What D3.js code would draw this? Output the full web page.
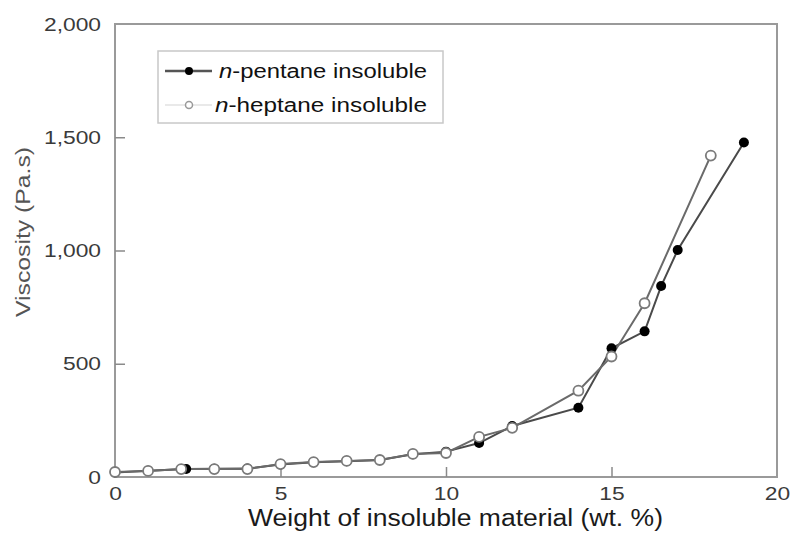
<!DOCTYPE html>
<html>
<head>
<meta charset="utf-8">
<script src="https://cdn.jsdelivr.net/npm/d3@7"></script>
<style>
  body { margin: 0; background: #fff; }
  text { font-family: "Liberation Sans", Arial, sans-serif; }
</style>
</head>
<body>
<div class="chart"></div>
<script>
// wt.% of insoluble material vs viscosity (Pa.s)
var pentaneX = [0, 1, 2.15, 3, 4, 5, 6, 7, 8, 9, 10, 11, 12, 14, 15, 16, 16.5, 17, 19];
var pentaneY = [20, 28, 35, 36, 37, 55, 65, 70, 75, 100, 112, 150, 225, 306, 568, 643, 843, 1002, 1477];

var heptaneX = [0, 1, 2, 3, 4, 5, 6, 7, 8, 9, 10, 11, 12, 14, 15, 16, 18];
var heptaneY = [22, 27, 35, 35, 35, 57, 66, 71, 75, 102, 106, 177, 217, 381, 532, 767, 1419];

var xTicks = [0, 5, 10, 15, 20];
var yTicks = [0, 500, 1000, 1500, 2000];

var seriesNames = ["pentane insoluble", "heptane insoluble"];

var width = 795;
var height = 552;
// plot box (note: "top" is taken by window.top)
var plotLeft = 115, plotRight = 777, plotTop = 24, plotBottom = 477;

var x = d3.scaleLinear().domain([0, 20]).range([plotLeft, plotRight]);
var y = d3.scaleLinear().domain([0, 2000]).range([plotBottom, plotTop]);

var svg = d3.select(".chart").append("svg")
	.attr("width", width)
	.attr("height", height);

// widen horizontal text a little around its anchor point
function stretchText(sel, k) {
	sel.each(function() {
		var t = d3.select(this);
		var tx = +t.attr("x") || 0;
		var ty = +t.attr("y") || 0;
		t.attr("x", 0).attr("y", 0)
			.attr("transform", "translate(" + tx + "," + ty + ") scale(" + k + ",1)");
	});
}

// frame
svg.append("rect")
	.attr("x", plotLeft)
	.attr("y", plotTop)
	.attr("width", plotRight - plotLeft)
	.attr("height", plotBottom - plotTop)
	.attr("fill", "none")
	.attr("stroke", "#9a9a9a")
	.attr("stroke-width", 2);

var xAxis = svg.append("g")
	.attr("transform", "translate(0," + plotBottom + ")")
	.call(d3.axisBottom(x).tickValues(xTicks).tickSizeInner(-10).tickSizeOuter(0).tickPadding(10));

var yAxis = svg.append("g")
	.attr("transform", "translate(" + plotLeft + ",0)")
	.call(d3.axisLeft(y).tickValues(yTicks).tickFormat(d3.format(",")).tickSizeInner(-10).tickSizeOuter(0).tickPadding(14));

[xAxis, yAxis].forEach(function(ax) {
	ax.select(".domain").remove();
	ax.selectAll(".tick line")
		.attr("stroke", "#8a8a8a")
		.attr("stroke-width", 1.5)
		.attr("display", function(d) { return (d === 0 || d === 20 || d === 2000) ? "none" : null; });
	ax.selectAll(".tick text")
		.attr("font-size", 19)
		.attr("fill", "#3a3a3a")
		.attr("font-family", "Liberation Sans, Arial, sans-serif");
	stretchText(ax.selectAll(".tick text"), 1.2);
});

// axis titles
svg.append("text")
	.attr("x", 248)
	.attr("y", 526)
	.attr("font-size", 23)
	.attr("fill", "#1a1a1a")
	.attr("textLength", 415)
	.attr("lengthAdjust", "spacingAndGlyphs")
	.text("Weight of insoluble material (wt. %)");

svg.append("text")
	.attr("transform", "translate(30,317) rotate(-90)")
	.attr("font-size", 20)
	.attr("fill", "#555")
	.attr("textLength", 170)
	.attr("lengthAdjust", "spacingAndGlyphs")
	.text("Viscosity (Pa.s)");

var line = d3.line()
	.x(function(d) { return x(d[0]); })
	.y(function(d) { return y(d[1]); });

var pentane = d3.zip(pentaneX, pentaneY);
var heptane = d3.zip(heptaneX, heptaneY);

// pentane first, so the open heptane circles sit on top
svg.append("path")
	.datum(pentane)
	.attr("d", line)
	.attr("fill", "none")
	.attr("stroke", "#4a4a4a")
	.attr("stroke-width", 2);

svg.append("path")
	.datum(heptane)
	.attr("d", line)
	.attr("fill", "none")
	.attr("stroke", "#6a6a6a")
	.attr("stroke-width", 2);

svg.append("g").selectAll("circle")
	.data(pentane)
	.enter().append("circle")
	.attr("cx", function(d) { return x(d[0]); })
	.attr("cy", function(d) { return y(d[1]); })
	.attr("r", 5)
	.attr("fill", "#000");

svg.append("g").selectAll("circle")
	.data(heptane)
	.enter().append("circle")
	.attr("cx", function(d) { return x(d[0]); })
	.attr("cy", function(d) { return y(d[1]); })
	.attr("r", 5)
	.attr("fill", "#fff")
	.attr("stroke", "#7a7a7a")
	.attr("stroke-width", 1.8);

// legend
var legend = svg.append("g");

legend.append("rect")
	.attr("x", 158)
	.attr("y", 51)
	.attr("width", 285)
	.attr("height", 72)
	.attr("fill", "#fff")
	.attr("stroke", "#c8c8c8")
	.attr("stroke-width", 1.5);

var legendRows = [
	{ y: 71, lineColor: "#555", lineWidth: 2.5, fill: "#000", stroke: "none", r: 4, textX: 219, textLen: 208 },
	{ y: 105, lineColor: "#e2e2e2", lineWidth: 1.5, fill: "#fff", stroke: "#999", r: 3.5, textX: 215, textLen: 212 }
];

legendRows.forEach(function(row, i) {
	legend.append("line")
		.attr("x1", 165)
		.attr("x2", 212)
		.attr("y1", row.y)
		.attr("y2", row.y)
		.attr("stroke", row.lineColor)
		.attr("stroke-width", row.lineWidth);

	legend.append("circle")
		.attr("cx", 189)
		.attr("cy", row.y)
		.attr("r", row.r)
		.attr("fill", row.fill)
		.attr("stroke", row.stroke)
		.attr("stroke-width", 1.5);

	var t = legend.append("text")
		.attr("x", row.textX)
		.attr("y", row.y + 7)
		.attr("font-size", 20)
		.attr("fill", "#111")
		.attr("textLength", row.textLen)
		.attr("lengthAdjust", "spacingAndGlyphs");

	t.append("tspan")
		.attr("font-style", "italic")
		.text("n");
	t.append("tspan")
		.text("-" + seriesNames[i]);
});
</script>
</body>
</html>
